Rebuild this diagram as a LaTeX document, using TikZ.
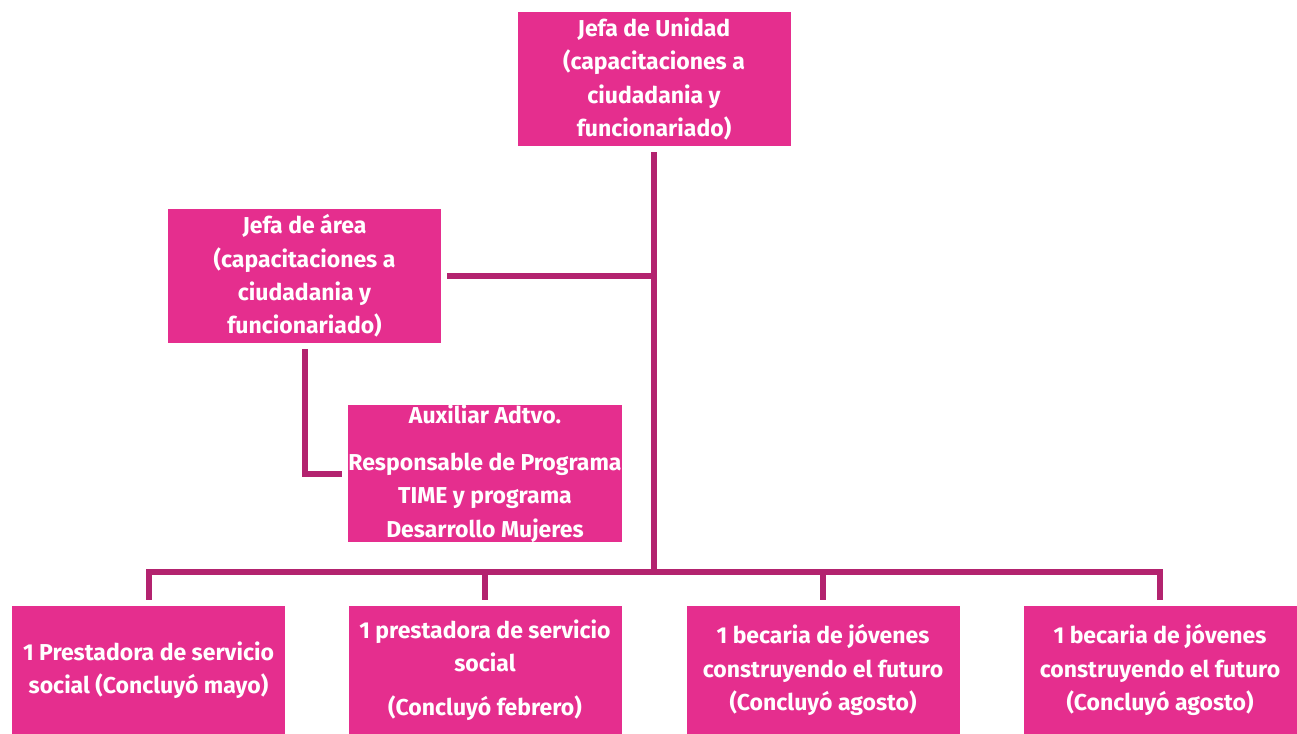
\documentclass[tikz,border=0pt]{standalone}
\usepackage{fontspec}
\setmainfont{Fira Sans}
\usepackage{tikz}
\usetikzlibrary{positioning,calc}
\definecolor{rosa}{HTML}{E52E8E}
\definecolor{rosaoscuro}{HTML}{B3236F}

\begin{document}
\begin{tikzpicture}[x=0.5pt, y=-0.5pt,
        puesto/.style={fill=rosa, text=white, inner sep=0pt, align=center,
            minimum width=136.5pt, minimum height=67pt,
            font=\fontsize{11.5}{16.7}\selectfont\bfseries},
        enlace/.style={draw=rosaoscuro, line width=3pt}]
        \useasboundingbox (0, 0) rectangle (1297, 734);
        % cajas
        \node[puesto] (jefa) at (654, 79) {Jefa de Unidad\\(capacitaciones a\\ciudadania y\\funcionariado)};
        \node[puesto] (area) at (304.5, 276) {Jefa de área\\(capacitaciones a\\ciudadania y\\funcionariado)};
        \node[puesto] (aux) at (485, 473.5) {Auxiliar Adtvo.\\[7pt]Responsable de Programa\\TIME y programa\\Desarrollo Mujeres};
        \node[puesto, minimum height=64pt] (b1) at (148.5, 670) {1 Prestadora de servicio\\social (Concluyó mayo)};
        \node[puesto, minimum height=64pt] (b2) at (485, 670) {1 prestadora de servicio\\social\\[5pt](Concluyó febrero)};
        \node[puesto, minimum height=64pt] (b3) at (823, 670) {1 becaria de jóvenes\\construyendo el futuro\\(Concluyó agosto)};
        \node[puesto, minimum height=64pt] (b4) at (1160, 670) {1 becaria de jóvenes\\construyendo el futuro\\(Concluyó agosto)};
        % lineas
        \coordinate (bus) at (654, 572);
        \draw[enlace] ([yshift=-3pt]jefa.south) -- (bus);
        \draw[enlace] ([xshift=3pt]area.east) -- (area.east -| bus);
        \draw[enlace] ([yshift=-3pt]area.south) |- ([xshift=-3pt]aux.west);
        \foreach \n in {b1, b2, b3, b4}
            \draw[enlace] ([yshift=3pt]\n.north) |- (bus);
    \end{tikzpicture}
\end{document}
